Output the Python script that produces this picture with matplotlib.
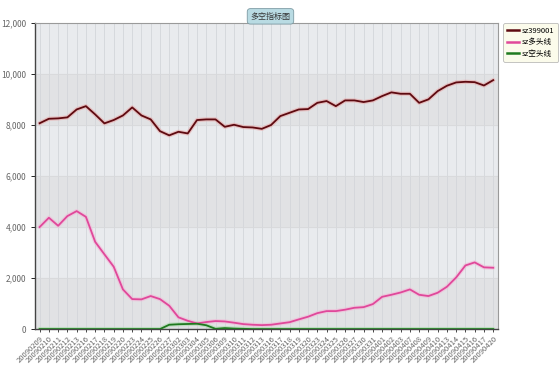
import matplotlib
matplotlib.use("Agg")
import matplotlib.pyplot as plt
from matplotlib.ticker import FuncFormatter
import numpy as np

plt.rcParams['font.family'] = ['Noto Sans CJK SC', 'DejaVu Sans']

dates = ["20090209", "20090210", "20090211", "20090212", "20090213", "20090216", "20090217",
         "20090218", "20090219", "20090220", "20090223", "20090224", "20090225", "20090226",
         "20090227", "20090302", "20090303", "20090304", "20090305", "20090306", "20090309",
         "20090310", "20090311", "20090312", "20090313", "20090316", "20090317", "20090318",
         "20090319", "20090320", "20090323", "20090324", "20090325", "20090326", "20090327",
         "20090330", "20090331", "20090401", "20090402", "20090403", "20090407", "20090408",
         "20090409", "20090410", "20090413", "20090414", "20090415", "20090416", "20090417",
         "20090420"]

sz399001 = [8070, 8245, 8260, 8300, 8610, 8740, 8415, 8065, 8195, 8375,
            8690, 8375, 8220, 7760, 7595, 7735, 7670, 8195, 8220, 8220,
            7930, 8010, 7920, 7905, 7850, 8000, 8350, 8480, 8610, 8625,
            8870, 8940, 8740, 8965, 8965, 8900, 8965, 9135, 9280, 9225,
            9225, 8870, 9005, 9330, 9540, 9670, 9695, 9680, 9550, 9760]

duo = [4000, 4365, 4050, 4430, 4625, 4400, 3420, 2930, 2445, 1555,
       1175, 1165, 1295, 1175, 915, 460, 325, 220, 275, 315,
       300, 250, 195, 170, 155, 170, 220, 270, 380, 485,
       625, 705, 705, 760, 835, 860, 980, 1265, 1345, 1435,
       1555, 1345, 1295, 1425, 1660, 2025, 2495, 2615, 2420, 2405]

kong = [0, 0, 0, 0, 0, 0, 0, 0, 0, 0,
        0, 0, 0, 0, 170, 190, 200, 210, 150, 10,
        40, 20, 10, 0, 0, 0, 0, 0, 0, 0,
        0, 0, 0, 0, 0, 0, 0, 0, 0, 0,
        0, 0, 0, 0, 0, 0, 0, 0, 0, 0]

yticks = [0, 2000, 4000, 6000, 8000, 10000, 12000]

fig = plt.figure(figsize=(5.6, 3.8), dpi=100)
ax = fig.add_axes([0.0625, 0.134, 0.8265, 0.8055])
x = np.arange(len(dates))

# background bands + vertical grid
ax.set_facecolor('#e9ebee')
for k in range(len(yticks) - 1):
    if k % 2 == 0:
        ax.axhspan(yticks[k], yticks[k + 1], color='#e1e2e4', zorder=0)
for xi in x:
    ax.axvline(xi, color='#d3d6da', lw=0.6, zorder=0.5)
for yv in yticks[1:-1]:
    ax.axhline(yv, color='#d8d9db', lw=0.6, zorder=0.5)

series = [(sz399001, '#5e0a10', '#e8a8a8', 'sz399001'),
          (duo, '#e0489a', '#f2b8d8', 'sz多头线'),
          (kong, '#1f7a1f', '#a8d8a8', 'sz空头线')]
for vals, col, glow, name in series:
    ax.plot(x, vals, color=glow, lw=3.0, alpha=0.6, zorder=2, solid_capstyle='round')
for vals, col, glow, name in series:
    ax.plot(x, vals, color=col, lw=1.3, zorder=3, label=name)

ax.set_xlim(-0.5, len(dates) - 0.5)
ax.set_ylim(0, 12000)
ax.set_yticks(yticks)
ax.yaxis.set_major_formatter(FuncFormatter(lambda v, p: f"{int(v):,}"))
ax.set_xticks(x)
ax.set_xticklabels(dates, rotation=45, ha='right', rotation_mode='anchor')
ax.tick_params(axis='y', labelsize=6, length=3, width=0.6)
ax.tick_params(axis='x', labelsize=5.5, length=2, width=0.5, pad=2)
for t in ax.get_yticklabels() + ax.get_xticklabels():
    t.set_color('#666666')

for s in ['left', 'bottom']:
    ax.spines[s].set_color('#444444')
    ax.spines[s].set_linewidth(1.0)
for s in ['top', 'right']:
    ax.spines[s].set_color('#9a9a9a')
    ax.spines[s].set_linewidth(0.8)

leg = ax.legend(loc='upper left', bbox_to_anchor=(1.012, 1.0), fontsize=5.5,
                frameon=True, fancybox=True, handlelength=1.6, handletextpad=0.3,
                borderpad=0.5, labelspacing=0.45, borderaxespad=0.0)
leg.get_frame().set_facecolor('#fbfbe6')
leg.get_frame().set_edgecolor('#aaaaaa')
leg.get_frame().set_linewidth(0.6)
for line in leg.get_lines():
    line.set_linewidth(1.8)

fig.text(0.483, 0.957, '多空指标图', fontsize=5.8, color='#333333', ha='center', va='center',
         bbox=dict(boxstyle='round,pad=0.4', facecolor='#b9dbe3', edgecolor='#7c9aa3', lw=0.6))

fig.savefig('out.png', dpi=100)
